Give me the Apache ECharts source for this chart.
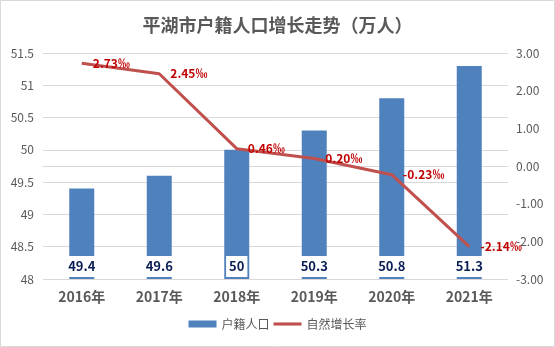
<!DOCTYPE html>
<html>
<head>
<meta charset="utf-8">
<script src="https://cdn.jsdelivr.net/npm/echarts@6/dist/echarts.min.js"></script>
<style>
html,body{margin:0;padding:0;background:#fff;}
#chart{width:555px;height:347px;}
</style>
</head>
<body>
<div id="chart"></div>
<script>
var categories = ['2016年', '2017年', '2018年', '2019年', '2020年', '2021年'];
var population = [49.4, 49.6, 50, 50.3, 50.8, 51.3];
var growthRate = [2.73, 2.45, 0.46, 0.20, -0.23, -2.14];
var seriesNames = ['户籍人口', '自然增长率'];
var titleText = '平湖市户籍人口增长走势（万人）';

var font = '"Noto Sans CJK SC", "Noto Sans", sans-serif';
var chart = echarts.init(document.getElementById('chart'));
chart.setOption({
  animation: false,
  backgroundColor: '#fff',
  textStyle: { fontFamily: font },
  graphic: [{
    type: 'rect', left: 0, top: 0, z: -1,
    shape: { x: 0.5, y: 0.5, width: 554, height: 346 },
    style: { fill: '#fff', stroke: '#d9d9d9', lineWidth: 1 }
  }],
  title: {
    text: titleText,
    left: 'center',
    top: 11,
    textStyle: { fontSize: 18, fontWeight: 'bold', color: '#595959', fontFamily: font }
  },
  legend: {
    bottom: 12,
    left: 'center',
    itemWidth: 28,
    itemHeight: 7,
    itemGap: 4,
    textStyle: { fontSize: 12, color: '#595959', fontFamily: font },
    data: [
      { name: seriesNames[0], icon: 'rect' },
      { name: seriesNames[1], icon: 'path://M0,0H90V10H0Z', itemStyle: { color: '#c0504d' } }
    ]
  },
  grid: { left: 43, right: 47, top: 53, bottom: 68 },
  xAxis: {
    type: 'category',
    data: categories,
    axisLine: { lineStyle: { color: '#d9d9d9' } },
    axisTick: { show: false },
    axisLabel: { fontSize: 14, fontWeight: 'bold', color: '#595959', margin: 11 }
  },
  yAxis: [{
    type: 'value',
    min: 48, max: 51.5, interval: 0.5,
    axisLine: { show: false },
    axisTick: { show: false },
    splitLine: { lineStyle: { color: '#d9d9d9' } },
    axisLabel: { fontSize: 12, color: '#595959', margin: 9 }
  }, {
    type: 'value',
    min: -3, max: 3, interval: 1,
    axisLine: { show: false },
    axisTick: { show: false },
    splitLine: { show: false },
    axisLabel: { fontSize: 12, color: '#595959', margin: 8,
      formatter: function (v) { return v.toFixed(2); } }
  }],
  series: [{
    name: seriesNames[0],
    type: 'bar',
    data: population,
    barWidth: 25,
    itemStyle: { color: '#4f81bd' },
    label: {
      show: true,
      position: 'insideBottom',
      distance: 2,
      fontSize: 13,
      fontWeight: 'bold',
      color: '#0b1f55',
      backgroundColor: '#fff',
      padding: [4, 3, 4, 3]
    }
  }, {
    name: seriesNames[1],
    type: 'line',
    yAxisIndex: 1,
    data: growthRate,
    symbol: 'circle',
    symbolSize: 0.1,
    lineStyle: { color: '#c0504d', width: 3 },
    itemStyle: { color: '#c0504d' },
    label: {
      show: true,
      position: 'right',
      distance: 11,
      fontSize: 12,
      fontWeight: 'bold',
      color: '#c00000',
      formatter: function (p) { return p.value.toFixed(2) + '‰'; }
    }
  }]
});
</script>
</body>
</html>
